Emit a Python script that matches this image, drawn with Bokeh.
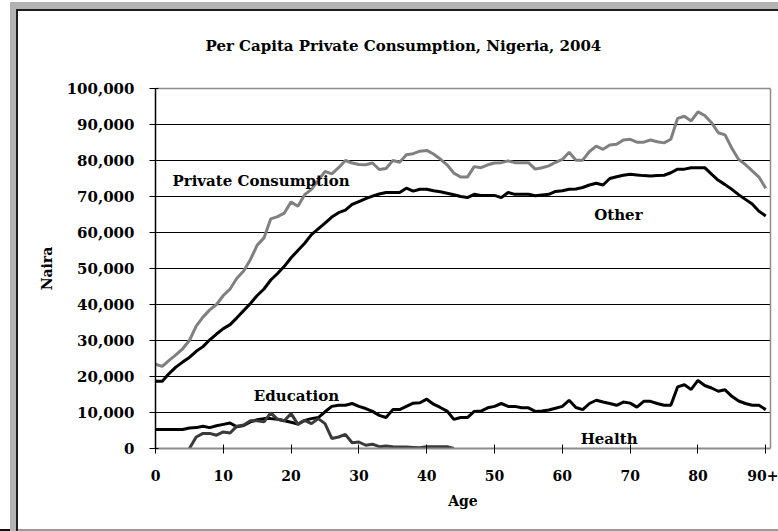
from bokeh.plotting import figure
from bokeh.models import (Range1d, FixedTicker, NumeralTickFormatter, Label, LinearAxis, Title)
from bokeh.embed import file_html
from bokeh.resources import INLINE

# ---------------- data (thousands of Naira) ----------------
ages = list(range(0, 91))
private_consumption = [
    23.4, 22.8, 24.5, 26.0, 27.7, 30.0, 34.0, 36.5, 38.5, 40.0,
    42.5, 44.3, 47.3, 49.3, 52.5, 56.5, 58.5, 63.8, 64.4, 65.4,
    68.5, 67.3, 70.5, 72.0, 74.5, 77.0, 76.3, 78.0, 80.0, 79.3,
    78.9, 78.8, 79.3, 77.5, 77.8, 80.0, 79.5, 81.6, 81.9, 82.6,
    82.8, 81.8, 80.4, 78.8, 76.5, 75.4, 75.4, 78.3, 78.0, 78.8,
    79.3, 79.4, 79.9, 79.4, 79.4, 79.4, 77.6, 78.0, 78.5, 79.5,
    80.3, 82.3, 80.1, 80.1, 82.5, 84.0, 83.1, 84.3, 84.5, 85.7,
    85.9, 85.1, 85.1, 85.7, 85.2, 84.9, 85.9, 91.7, 92.3, 91.0,
    93.5, 92.5, 90.5, 87.7, 87.1, 83.4, 80.3, 78.9, 77.1, 75.4,
    72.3]
other = [
    18.7, 18.7, 20.8, 22.6, 24.0, 25.3, 27.0, 28.3, 30.2, 31.8,
    33.3, 34.4, 36.3, 38.3, 40.3, 42.5, 44.3, 46.8, 48.6, 50.6,
    53.0, 55.0, 57.0, 59.4, 61.0, 62.6, 64.3, 65.5, 66.2, 67.8,
    68.6, 69.4, 70.1, 70.7, 71.1, 71.1, 71.1, 72.3, 71.5, 72.0,
    72.0, 71.6, 71.3, 70.9, 70.5, 70.0, 69.7, 70.6, 70.3, 70.3,
    70.3, 69.7, 71.1, 70.6, 70.6, 70.6, 70.2, 70.4, 70.6, 71.4,
    71.6, 72.0, 72.1, 72.5, 73.2, 73.7, 73.2, 75.0, 75.5, 75.9,
    76.2, 76.0, 75.8, 75.7, 75.8, 75.9, 76.6, 77.6, 77.6, 78.0,
    78.0, 78.0, 76.2, 74.5, 73.3, 72.0, 70.5, 69.2, 67.9, 65.9,
    64.6]
education = [
    5.3, 5.3, 5.3, 5.3, 5.3, 5.7, 5.8, 6.2, 5.8, 6.3,
    6.7, 7.1, 6.0, 6.4, 7.4, 8.0, 8.3, 8.3, 8.1, 7.7,
    7.3, 6.8, 7.8, 8.3, 8.6, 10.2, 11.7, 12.0, 12.0, 12.5,
    11.7, 11.1, 10.3, 9.2, 8.6, 10.8, 10.8, 11.7, 12.6, 12.7,
    13.7, 12.3, 11.4, 10.4, 8.1, 8.6, 8.6, 10.3, 10.4, 11.3,
    11.7, 12.5, 11.7, 11.7, 11.3, 11.3, 10.3, 10.4, 10.7, 11.2,
    11.7, 13.4, 11.4, 10.8, 12.5, 13.4, 12.9, 12.5, 12.0, 12.9,
    12.6, 11.5, 13.1, 13.1, 12.5, 12.0, 12.0, 17.1, 17.7, 16.4,
    18.9, 17.5, 16.8, 15.9, 16.3, 14.5, 13.2, 12.5, 12.0, 12.0,
    10.8]
health_ages = list(range(5, 45))
health = [
    0.0, 3.2, 4.2, 4.2, 3.7, 4.6, 4.3, 6.2, 6.5, 7.7,
    7.7, 7.4, 9.9, 8.1, 7.7, 9.7, 6.7, 7.8, 6.9, 8.3,
    6.9, 2.8, 3.2, 3.9, 1.6, 1.8, 0.9, 1.2, 0.5, 0.7,
    0.5, 0.4, 0.4, 0.3, 0.2, 0.5, 0.5, 0.5, 0.5, 0.0]
x_ticks = [0, 10, 20, 30, 40, 50, 60, 70, 80, 90]
x_tick_labels = ["0", "10", "20", "30", "40", "50", "60", "70", "80", "90+"]
y_ticks = [0, 10000, 20000, 30000, 40000, 50000, 60000, 70000, 80000, 90000, 100000]

title_text = "Per Capita Private Consumption, Nigeria, 2004"

# ---------------- layout ----------------
W, H = 778, 531
FL, FR, FT, FB = 155, 8, 87, 83
X0, X1 = 0, 90.7
Y0, Y1 = 0, 100000

FONT = "DejaVu Serif"

frame_bg = ", ".join([
    "linear-gradient(#111,#111) 0px 529px / 10px 2px no-repeat",
    "linear-gradient(#9a9a9a,#9a9a9a) 18px 529px / 760px 2px no-repeat",
    "linear-gradient(#fff,#fff) 18px 11px / 760px 518px no-repeat",
    "linear-gradient(#1e1e1e,#1e1e1e) 16px 9px / 762px 522px no-repeat",
    "linear-gradient(#b3b3b3,#b3b3b3) 10px 2px / 768px 529px no-repeat",
    "#ffffff",
])

p = figure(width=W, height=H, output_backend="svg", toolbar_location=None,
           x_range=Range1d(X0, X1), y_range=Range1d(Y0, Y1),
           min_border_left=FL, min_border_right=FR, min_border_top=FT, min_border_bottom=FB,
           styles={"background": frame_bg})
p.background_fill_color = "white"
p.border_fill_color = None
p.outline_line_color = None

k = 1000.0
p.line(ages, [v * k for v in private_consumption], line_color="#808080", line_width=3)
p.line(ages, [v * k for v in other], line_color="black", line_width=3)
p.line(ages, [v * k for v in education], line_color="black", line_width=3)
p.line(health_ages, [v * k for v in health], line_color="#3a3a3a", line_width=3)

# axes
xa = p.xaxis[0]
xa.ticker = FixedTicker(ticks=x_ticks)
xa.major_label_overrides = {t: l for t, l in zip(x_ticks, x_tick_labels)}
xa.axis_line_color = "#8c8c8c"
xa.axis_line_width = 2
xa.major_tick_line_color = "black"
xa.major_tick_out = 5
xa.major_tick_in = 4
xa.minor_tick_line_color = None
xa.major_label_standoff = 16
xa.major_label_text_font = FONT
xa.major_label_text_font_style = "bold"
xa.major_label_text_font_size = "14px"
xa.major_label_text_color = "black"
xa.axis_label = "Age"
xa.axis_label_text_font = FONT
xa.axis_label_text_font_style = "bold"
xa.axis_label_text_font_size = "14px"
xa.axis_label_text_color = "black"
xa.axis_label_standoff = 9

ya = p.yaxis[0]
ya.ticker = FixedTicker(ticks=y_ticks)
ya.formatter = NumeralTickFormatter(format="0,0")
ya.axis_line_color = "black"
ya.axis_line_width = 1.5
ya.major_tick_line_color = "black"
ya.major_tick_out = 6
ya.major_tick_in = 3
ya.minor_tick_line_color = None
ya.major_label_standoff = 15
ya.major_label_text_font = FONT
ya.major_label_text_font_style = "bold"
ya.major_label_text_font_size = "15px"
ya.major_label_text_color = "black"
ya.axis_label = "Naira"
ya.axis_label_text_font = FONT
ya.axis_label_text_font_style = "bold"
ya.axis_label_text_font_size = "14px"
ya.axis_label_text_color = "black"
ya.axis_label_standoff = 9

# plot-area border on top and right (grey), as bare axes
for side in ("above", "right"):
    ax = LinearAxis(ticker=FixedTicker(ticks=[]), axis_line_color="#8c8c8c", axis_line_width=1.5,
                    major_tick_line_color=None, minor_tick_line_color=None,
                    major_label_text_font_size="0px", major_label_standoff=0)
    p.add_layout(ax, side)

p.xgrid.grid_line_color = None
p.ygrid.ticker = FixedTicker(ticks=y_ticks[1:-1])
p.ygrid.grid_line_color = "black"
p.ygrid.grid_line_width = 1

# title
p.add_layout(Title(text=title_text, align="left", offset=50, standoff=68,
                   text_font=FONT, text_font_style="bold", text_font_size="15px",
                   text_color="black"), "above")

# series labels
series_labels = [("Private Consumption", 2.5, 74300), ("Other", 64.7, 64900),
                 ("Education", 14.5, 14600), ("Health", 62.7, 2700)]
for txt, lx, ly in series_labels:
    p.add_layout(Label(x=lx, y=ly, text=txt, text_align="left", text_baseline="middle",
                       text_font=FONT, text_font_style="bold", text_font_size="15px", text_color="black"))

open("out.html", "w").write(file_html(p, INLINE))
